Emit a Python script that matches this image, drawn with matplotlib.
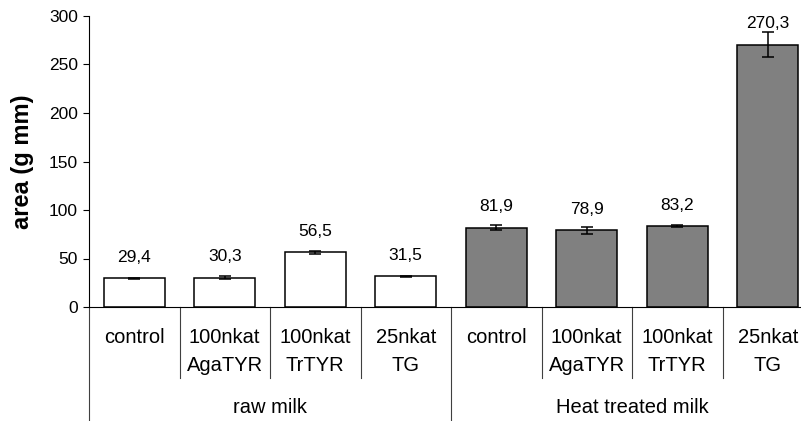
import matplotlib.pyplot as plt
import numpy as np

plt.rcParams['font.family'] = ['Liberation Sans', 'DejaVu Sans']

categories = ['control', '100nkat\nAgaTYR', '100nkat\nTrTYR', '25nkat\nTG',
              'control', '100nkat\nAgaTYR', '100nkat\nTrTYR', '25nkat\nTG']
groups = ['raw milk', 'Heat treated milk']
values = [29.4, 30.3, 56.5, 31.5, 81.9, 78.9, 83.2, 270.3]
errors = [1.0, 1.5, 1.5, 0.6, 2.4, 3.4, 1.0, 13.0]
labels = ['29,4', '30,3', '56,5', '31,5', '81,9', '78,9', '83,2', '270,3']
colors = ['white'] * 4 + ['#808080'] * 4

fig = plt.figure(figsize=(8.01, 4.21), dpi=100)
ax = fig.add_axes([89 / 801, (421 - 307) / 421, 724 / 801, 291 / 421])

x = np.arange(len(values))
ax.bar(x, values, width=0.67, color=colors, edgecolor='black', linewidth=1.1,
       yerr=errors, capsize=4.5, error_kw=dict(elinewidth=1.1, capthick=1.1, ecolor='black'))

for xi, v, lab in zip(x, values, labels):
    ax.annotate(lab, (xi, v), xytext=(0, 15), textcoords='offset points',
                ha='center', va='center', fontsize=12.5)

ax.set_xlim(-0.5, 7.5)
ax.set_ylim(0, 300)
ax.set_yticks(range(0, 301, 50))
ax.tick_params(axis='y', labelsize=12.5, length=4.5, width=0.8, direction='out')
ax.set_xticks([])
for s in ['top', 'right']:
    ax.spines[s].set_visible(False)
ax.spines['left'].set_linewidth(0.8)
ax.spines['bottom'].set_linewidth(0.8)
ax.spines['left'].set_bounds(0, 300)

# two-level category axis
trans = ax.get_xaxis_transform()
for i in range(len(values) + 1):
    b = i - 0.5
    bottom = -0.40 if i % 4 == 0 else -0.244
    ax.plot([b, b], [0, bottom], transform=trans, color='#404040', lw=0.8, clip_on=False)

for xi, cat in zip(x, categories):
    lines = cat.split('\n')
    for k, line in enumerate(lines):
        ax.text(xi, -0.1065 - 0.093 * k, line, transform=trans, ha='center', va='center',
                fontsize=14.5)

for g, name in enumerate(groups):
    ax.text(1.5 + 4 * g, -0.344, name, transform=trans, ha='center', va='center', fontsize=14.5)

fig.text(23 / 801, 1 - 162 / 421, 'area (g mm)', rotation=90, ha='center', va='center',
         fontsize=17, fontweight='bold')

fig.savefig('out.png', dpi=100)
